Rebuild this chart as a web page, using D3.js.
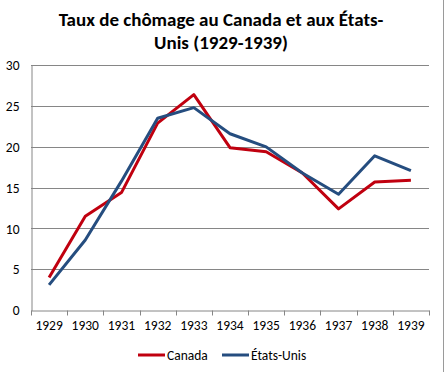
<!DOCTYPE html>
<meta charset="utf-8">
<script src="https://d3js.org/d3.v7.min.js"></script>
<body style="margin:0; background:#fff">
<div id="chart"></div>
</body>
<script>
    // Data
    var years = ["1929", "1930", "1931", "1932", "1933", "1934", "1935", "1936", "1937", "1938", "1939"];
    var canada = [4.1, 11.6, 14.5, 23.0, 26.5, 20.0, 19.5, 16.9, 12.5, 15.8, 16.0];
    var etatsUnis = [3.2, 8.7, 15.9, 23.6, 24.9, 21.7, 20.1, 16.9, 14.3, 19.0, 17.2];
    var yTicks = [0, 5, 10, 15, 20, 25, 30];

    var font = "Carlito, 'Open Sans', sans-serif";
    var W = 445, H = 372;
    var margin = {top: 66, right: 16, bottom: 61, left: 31};

    var svg = d3.select("#chart").append("svg")
        .attr("width", W).attr("height", H)
        .style("font-family", font);

    // Border on the right
    svg.append("line")
        .attr("x1", 443.5).attr("x2", 443.5).attr("y1", 0).attr("y2", H)
        .attr("stroke", "#9a9a9a");

    var x = d3.scaleBand().domain(years).range([margin.left, W - margin.right]);
    var y = d3.scaleLinear().domain([0, 30]).range([H - margin.bottom, margin.top]);

    // Grid lines
    svg.append("g").selectAll("line").data(yTicks.slice(1)).enter().append("line")
        .attr("x1", margin.left).attr("x2", W - margin.right)
        .attr("y1", function (d) { return Math.round(y(d)) - 0.5; })
        .attr("y2", function (d) { return Math.round(y(d)) - 0.5; })
        .attr("stroke", "#868686");

    // Y axis
    var yAxis = svg.append("g")
        .attr("transform", "translate(" + (margin.left + 0.5) + ",-0.5)")
        .call(d3.axisLeft(y).tickValues(yTicks).tickSize(0).tickPadding(12));
    yAxis.select(".domain").attr("stroke", "#868686");
    yAxis.selectAll("text").attr("font-size", 13.5).attr("font-family", font).attr("fill", "#000");

    // X axis
    var xAxis = svg.append("g")
        .attr("transform", "translate(0," + (Math.round(y(0)) - 0.5) + ")")
        .call(d3.axisBottom(x).tickSizeOuter(0).tickSize(0).tickPadding(10));
    xAxis.select(".domain").attr("stroke", "#868686");
    xAxis.selectAll("text").attr("font-size", 13.5).attr("font-family", font).attr("fill", "#000");
    // tick marks between categories
    var edges = years.map(function (d) { return x(d); }).concat([x(years[years.length - 1]) + x.bandwidth()]);
    xAxis.selectAll(".edge").data(edges).enter().append("line")
        .attr("x1", function (d) { return Math.round(d) + 0.5; })
        .attr("x2", function (d) { return Math.round(d) + 0.5; })
        .attr("y1", 0).attr("y2", 5)
        .attr("stroke", "#868686");

    // Lines
    var line = d3.line()
        .x(function (d, i) { return x(years[i]) + x.bandwidth() / 2; })
        .y(function (d) { return y(d); });

    svg.append("path").datum(canada)
        .attr("d", line).attr("fill", "none")
        .attr("stroke", "#c0000f").attr("stroke-width", 3)
        .attr("stroke-linejoin", "round");

    svg.append("path").datum(etatsUnis)
        .attr("d", line).attr("fill", "none")
        .attr("stroke", "#254d7f").attr("stroke-width", 3)
        .attr("stroke-linejoin", "round");

    // Title
    var title = svg.append("text")
        .attr("text-anchor", "middle")
        .attr("font-size", 19).attr("font-weight", "bold")
        .attr("fill", "#000");
    title.append("tspan").attr("x", 221).attr("y", 26).text("Taux de chômage au Canada et aux États-");
    title.append("tspan").attr("x", 221).attr("y", 49).text("Unis (1929-1939)");

    // Legend
    var legend = [
        {name: "Canada", color: "#c0000f", x: 138},
        {name: "États-Unis", color: "#254d7f", x: 222}
    ];
    var lg = svg.append("g").selectAll("g").data(legend).enter().append("g");
    lg.append("line")
        .attr("x1", function (d) { return d.x; })
        .attr("x2", function (d) { return d.x + 27; })
        .attr("y1", 355).attr("y2", 355)
        .attr("stroke", function (d) { return d.color; })
        .attr("stroke-width", 3);
    lg.append("text")
        .attr("x", function (d) { return d.x + 29; })
        .attr("y", 359.5)
        .attr("font-size", 13.5)
        .attr("fill", "#000")
        .text(function (d) { return d.name; });
</script>
